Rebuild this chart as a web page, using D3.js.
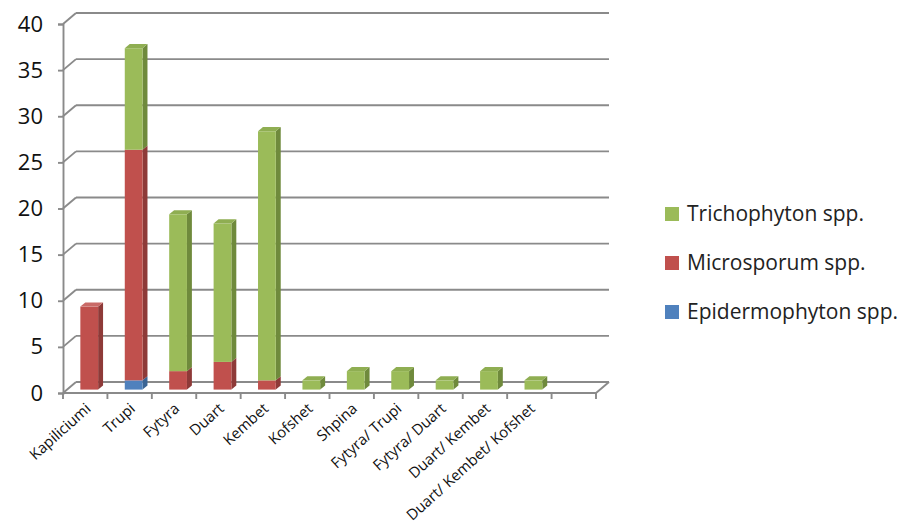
<!DOCTYPE html>
<html>
<head>
<meta charset="utf-8">
<script src="https://cdn.jsdelivr.net/npm/d3@7"></script>
<style>
  html, body { margin: 0; padding: 0; background: #fff; }
  svg { display: block; font-family: "Open Sans", "Liberation Sans", sans-serif; }
</style>
</head>
<body>
<svg id="chart" width="919" height="526"></svg>
<script>
// body sites (last slot is an empty category, as in the source chart)
var categories = ["Kapiliciumi", "Trupi", "Fytyra", "Duart", "Kembet", "Kofshet", "Shpina",
                  "Fytyra/ Trupi", "Fytyra/ Duart", "Duart/ Kembet", "Duart/ Kembet/ Kofshet", ""];

// stacked series, bottom to top
var epidermophyton = [0, 1, 0, 0, 0, 0, 0, 0, 0, 0, 0, 0];
var microsporum    = [9, 25, 2, 3, 1, 0, 0, 0, 0, 0, 0, 0];
var trichophyton   = [0, 11, 17, 15, 27, 1, 2, 2, 1, 2, 1, 0];

var seriesNames = ["Epidermophyton spp.", "Microsporum spp.", "Trichophyton spp."];
var legendOrder = ["Trichophyton spp.", "Microsporum spp.", "Epidermophyton spp."];
var yTicks = [0, 5, 10, 15, 20, 25, 30, 35, 40];

// ── colours (front / side / top) ────────────────────────────────────────────
var COLOR = {
  "Epidermophyton spp.": { front: "#4f81bd", side: "#3a6494", top: "#6f98cc" },
  "Microsporum spp.":    { front: "#c0504d", side: "#8e3a38", top: "#c96a67" },
  "Trichophyton spp.":   { front: "#9bbb59", side: "#6f8a3c", top: "#8fae52" }
};
var GRID = "#8a8a8a";

// ── geometry ────────────────────────────────────────────────────────────────
var DX = 13, DY = -11;          // depth offset of the back wall
var D1 = 0.31, D2 = 0.69;       // bar depth range (fraction of depth)

var x = d3.scaleBand().domain(categories).range([63, 596]).padding(0);
var y = d3.scaleLinear().domain([0, 40]).range([393, 24]);
var barW = x.bandwidth() * 0.4;

function P(px, v, d) { return [px + d * DX, y(v) + d * DY]; }

var svg = d3.select("#chart");

// ── walls / grid ────────────────────────────────────────────────────────────
var grid = svg.append("g")
  .attr("fill", "none").attr("stroke", GRID).attr("stroke-width", 1.9);

yTicks.forEach(function (t) {
  // back wall line
  grid.append("line")
    .attr("x1", 63 + DX).attr("y1", y(t) + DY)
    .attr("x2", 596 + DX).attr("y2", y(t) + DY);
  // side wall diagonal
  grid.append("line")
    .attr("x1", 63).attr("y1", y(t))
    .attr("x2", 63 + DX).attr("y2", y(t) + DY);
});
// floor front edge and right edge
grid.append("line").attr("x1", 63).attr("y1", y(0)).attr("x2", 596).attr("y2", y(0));
grid.append("line").attr("x1", 596).attr("y1", y(0)).attr("x2", 596 + DX).attr("y2", y(0) + DY);

// x ticks at slot boundaries
var bounds = categories.map(function (c) { return x(c); }).concat([x.range()[1]]);
grid.selectAll("line.xt").data(bounds).join("line")
  .attr("class", "xt")
  .attr("x1", function (d) { return d; }).attr("x2", function (d) { return d; })
  .attr("y1", y(0)).attr("y2", y(0) + 6);

// ── y axis ──────────────────────────────────────────────────────────────────
var yAxis = svg.append("g")
  .attr("transform", "translate(63,0)")
  .call(d3.axisLeft(y).tickValues(yTicks).tickSize(5).tickPadding(15));
yAxis.select(".domain").attr("stroke", GRID).attr("stroke-width", 1.9);
yAxis.selectAll(".tick line").attr("stroke", GRID).attr("stroke-width", 1.9);
yAxis.selectAll(".tick text")
  .attr("font-size", 22).attr("fill", "#111")
  .attr("font-family", "'Open Sans', sans-serif");

// ── x labels ────────────────────────────────────────────────────────────────
var xAxis = svg.append("g")
  .attr("transform", "translate(0," + y(0) + ")")
  .call(d3.axisBottom(x).tickSize(0).tickFormat(function (d) { return d; }));
xAxis.select(".domain").remove();
xAxis.selectAll(".tick text")
  .attr("font-size", 15).attr("fill", "#111")
  .attr("font-family", "'Open Sans', sans-serif")
  .attr("text-anchor", "end")
  .attr("dy", "0.35em")
  .attr("transform", "translate(3,13) rotate(-42)")
  .attr("y", 0).attr("x", 0);

// ── bars ────────────────────────────────────────────────────────────────────
var stackData = categories.map(function (c, i) {
  return {
    cat: c,
    "Epidermophyton spp.": epidermophyton[i],
    "Microsporum spp.": microsporum[i],
    "Trichophyton spp.": trichophyton[i]
  };
});
var stacked = d3.stack().keys(seriesNames)(stackData);

var bars = svg.append("g");
categories.forEach(function (c, i) {
  var x0 = x(c) + (x.bandwidth() - barW) / 2;
  var x1 = x0 + barW;
  var total = 0;
  stacked.forEach(function (s) { if (s[i][1] > s[i][0]) total = s[i][1]; });
  stacked.forEach(function (s) {
    var v0 = s[i][0], v1 = s[i][1];
    if (v1 <= v0) return;
    var col = COLOR[s.key];
    var g = bars.append("g");
    // side face
    g.append("polygon")
      .attr("points", [P(x1, v0, D1), P(x1, v0, D2), P(x1, v1, D2), P(x1, v1, D1)].join(" "))
      .attr("fill", col.side);
    // front face
    var f0 = P(x0, v1, D1);
    g.append("rect")
      .attr("x", f0[0]).attr("y", f0[1])
      .attr("width", barW).attr("height", y(v0) - y(v1))
      .attr("fill", col.front);
    // top face on the topmost segment
    if (v1 === total) {
      g.append("polygon")
        .attr("points", [P(x0, v1, D1), P(x1, v1, D1), P(x1, v1, D2), P(x0, v1, D2)].join(" "))
        .attr("fill", col.top);
    }
  });
});

// ── legend ──────────────────────────────────────────────────────────────────
var legend = svg.append("g").attr("transform", "translate(665,0)");
var legendY = d3.scalePoint().domain(legendOrder).range([214, 312]);
legendOrder.forEach(function (name) {
  var ly = legendY(name);
  legend.append("rect")
    .attr("x", 0).attr("y", ly - 7).attr("width", 14).attr("height", 14)
    .attr("fill", COLOR[name].front);
  legend.append("text")
    .attr("x", 22).attr("y", ly).attr("dy", "0.35em")
    .attr("font-size", 21).attr("fill", "#222")
    .text(name);
});
</script>
</body>
</html>
